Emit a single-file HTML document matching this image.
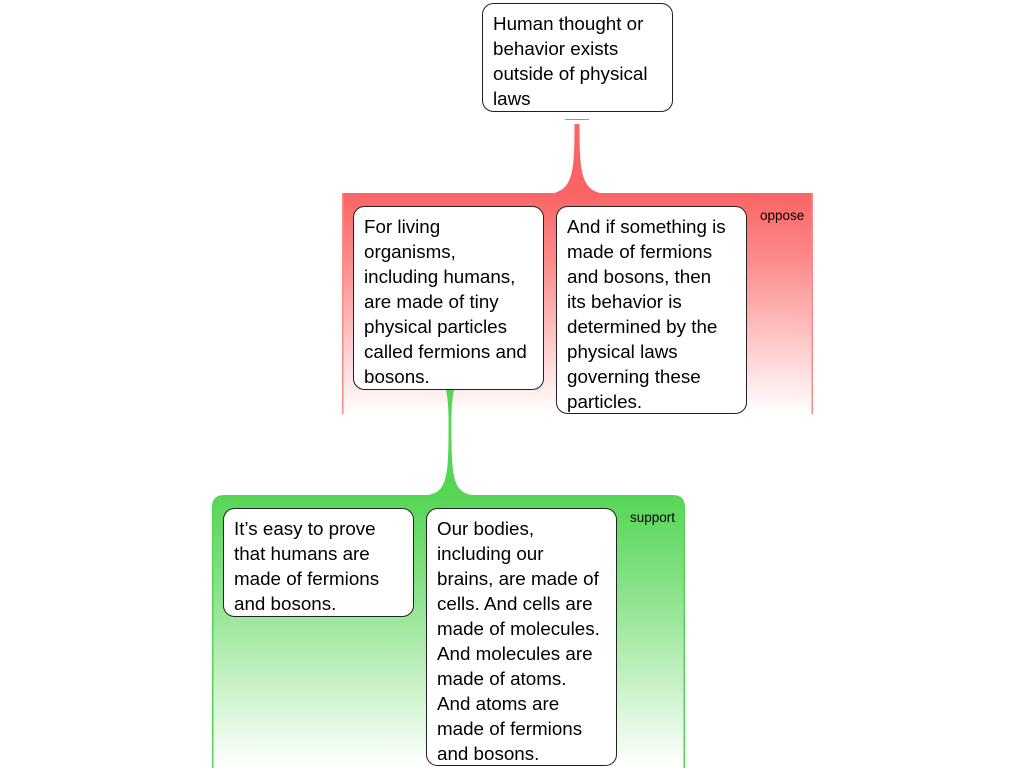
<!DOCTYPE html>
<html><head><meta charset="utf-8"><style>
html,body{margin:0;padding:0;background:#fff;}
svg{display:block;}
text{font-family:"Liberation Sans",Arial,sans-serif;font-size:18.8px;fill:#000;}
.s{font-size:13.5px;}
</style></head><body>
<svg width="1024" height="768" viewBox="0 0 1024 768">
<defs>
<linearGradient id="r" x1="0" y1="0" x2="0" y2="1">
<stop offset="0" stop-color="#fa6464"/><stop offset="0.3" stop-color="#fc8a8a"/><stop offset="1" stop-color="#fff"/></linearGradient>
<linearGradient id="g" x1="0" y1="0" x2="0" y2="1">
<stop offset="0" stop-color="#55d655"/><stop offset="0.3" stop-color="#80e080"/><stop offset="1" stop-color="#fff"/></linearGradient>
</defs>
<rect x="342" y="193" width="471" height="221" fill="url(#r)"/>
<rect x="342" y="193" width="1.5" height="221" fill="#f88"/>
<rect x="811.5" y="193" width="1.5" height="221" fill="#f88"/>
<line x1="565" y1="119.5" x2="589" y2="119.5" stroke="#f66" stroke-width="1"/>
<path d="M574.5,124 L579.5,124 C579.5,170 581,188 600,193 L554,193 C573,188 574.5,170 574.5,124 Z" fill="#fa6464"/>
<text class="s" x="760" y="220">oppose</text>
<path d="M212,768 L212,507 Q212,495 224,495 L673,495 Q685,495 685,507 L685,768 Z" fill="url(#g)"/>
<rect x="212" y="505" width="1.5" height="263" fill="#55d655"/>
<rect x="683.5" y="505" width="1.5" height="263" fill="#55d655"/>
<path d="M446,390 L454,390 C452,400 451,410 451.5,440 C452,480 455,492 472,495 L428,495 C445,492 448,480 448.5,440 C449,410 448,400 446,390 Z" fill="#55d655"/>
<text class="s" x="630" y="522">support</text>
<g fill="#fff" stroke="#222" stroke-width="1">
<rect x="482.5" y="3.5" width="190" height="108" rx="11"/>
<rect x="353.5" y="206.5" width="190" height="183" rx="11"/>
<rect x="556.5" y="206.5" width="190" height="207" rx="11"/>
<rect x="223.5" y="508.5" width="190" height="108" rx="11"/>
<rect x="426.5" y="508.5" width="190" height="257" rx="11"/>
</g>
<text x="493" y="30"><tspan x="493">Human thought or</tspan><tspan x="493" dy="25">behavior exists</tspan><tspan x="493" dy="25">outside of physical</tspan><tspan x="493" dy="25">laws</tspan></text>
<text x="364" y="233"><tspan x="364">For living</tspan><tspan x="364" dy="25">organisms,</tspan><tspan x="364" dy="25">including humans,</tspan><tspan x="364" dy="25">are made of tiny</tspan><tspan x="364" dy="25">physical particles</tspan><tspan x="364" dy="25">called fermions and</tspan><tspan x="364" dy="25">bosons.</tspan></text>
<text x="567" y="233"><tspan x="567">And if something is</tspan><tspan x="567" dy="25">made of fermions</tspan><tspan x="567" dy="25">and bosons, then</tspan><tspan x="567" dy="25">its behavior is</tspan><tspan x="567" dy="25">determined by the</tspan><tspan x="567" dy="25">physical laws</tspan><tspan x="567" dy="25">governing these</tspan><tspan x="567" dy="25">particles.</tspan></text>
<text x="234" y="535"><tspan x="234">It’s easy to prove</tspan><tspan x="234" dy="25">that humans are</tspan><tspan x="234" dy="25">made of fermions</tspan><tspan x="234" dy="25">and bosons.</tspan></text>
<text x="437" y="535"><tspan x="437">Our bodies,</tspan><tspan x="437" dy="25">including our</tspan><tspan x="437" dy="25">brains, are made of</tspan><tspan x="437" dy="25">cells. And cells are</tspan><tspan x="437" dy="25">made of molecules.</tspan><tspan x="437" dy="25">And molecules are</tspan><tspan x="437" dy="25">made of atoms.</tspan><tspan x="437" dy="25">And atoms are</tspan><tspan x="437" dy="25">made of fermions</tspan><tspan x="437" dy="25">and bosons.</tspan></text>
</svg>
</body></html>
